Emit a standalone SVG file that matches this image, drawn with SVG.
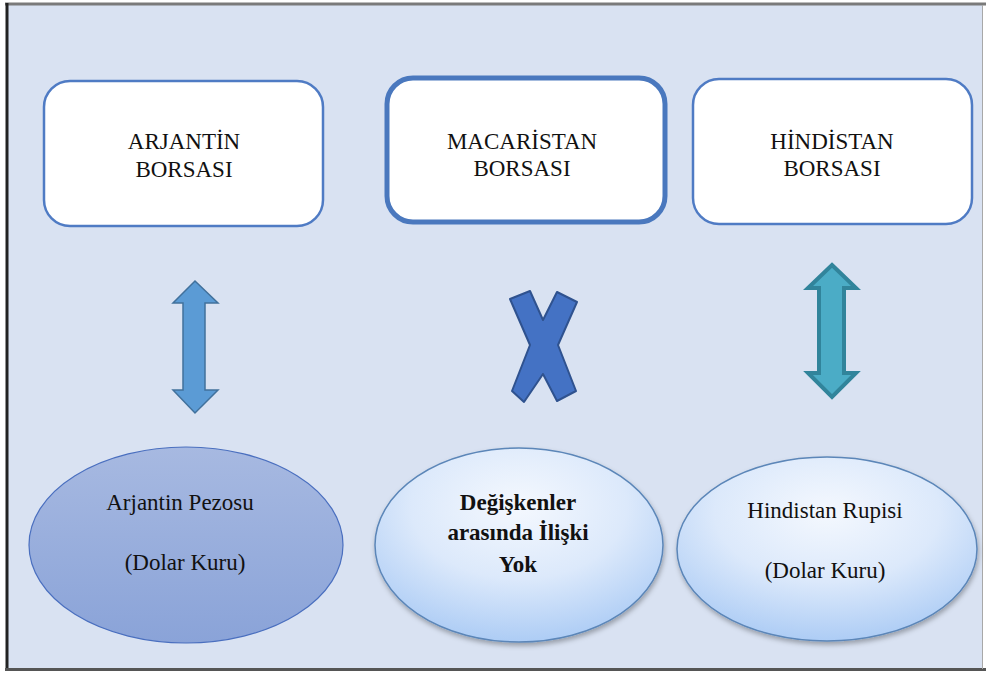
<svg xmlns="http://www.w3.org/2000/svg" width="989" height="675" viewBox="0 0 989 675">
<defs>
<style>
.box{fill:#ffffff;stroke:#4F7BC4;stroke-width:2.5}
.t{font-family:'Liberation Serif',Tinos,'Times New Roman',Times,'DejaVu Serif','Noto Serif',serif;font-size:23px;fill:#111;text-anchor:middle}
.b{font-weight:bold}
</style>
<linearGradient id="gL" x1="0" y1="0" x2="0" y2="1">
<stop offset="0" stop-color="#A7B9E1"/>
<stop offset="1" stop-color="#8AA3D8"/>
</linearGradient>
<radialGradient id="gB" cx="0.5" cy="0.3" r="0.75">
<stop offset="0" stop-color="#F4F8FE"/>
<stop offset="0.5" stop-color="#DCE9FB"/>
<stop offset="1" stop-color="#A6C8F4"/>
</radialGradient>
<filter id="sh" x="-10%" y="-10%" width="120%" height="130%">
<feDropShadow dx="1" dy="3" stdDeviation="2.5" flood-color="#000" flood-opacity="0.3"/>
</filter>
</defs>
<rect x="0" y="0" width="989" height="675" fill="#ffffff"/>
<rect x="8" y="5" width="975" height="664" fill="#D9E2F2"/>
<line x1="5" y1="4" x2="986" y2="4" stroke="#7a7a7a" stroke-width="3"/>
<line x1="7" y1="3" x2="7" y2="671" stroke="#222" stroke-width="3"/>
<line x1="5" y1="669.5" x2="986" y2="669.5" stroke="#555" stroke-width="3"/>
<line x1="982.5" y1="5" x2="982.5" y2="669" stroke="#a8a8a8" stroke-width="1"/>

<g id="box-arjantin">
<rect class="box" x="44" y="81" width="279" height="145" rx="26"/>
<text class="t" x="184" y="149">ARJANTİN</text>
<text class="t" x="184" y="177">BORSASI</text>
</g>
<g id="box-macaristan">
<rect class="box" x="387" y="78" width="278" height="144" rx="26" style="stroke-width:5;stroke:#4A78BE"/>
<text class="t" x="522" y="149">MACARİSTAN</text>
<text class="t" x="522" y="176">BORSASI</text>
</g>
<g id="box-hindistan">
<rect class="box" x="693" y="79" width="279" height="145" rx="26"/>
<text class="t" x="832" y="149">HİNDİSTAN</text>
<text class="t" x="832" y="176">BORSASI</text>
</g>

<g id="connectors">
<polygon points="195,281 218,303 205,303 205,390 218,390 195,413 173,390 183,390 183,303 173,303" fill="#5B9BD5" stroke="#41719C" stroke-width="1.5" stroke-linejoin="miter"/>
<polygon points="510,299 530,291 543,320 557,292 577,302 558,345 576,391 557,401 543,374 524,402 512,391 530,345" fill="#4472C4" stroke="#2F528F" stroke-width="2" stroke-linejoin="round"/>
<polygon points="832,265 856,288 844,288 844,373 856,373 832,397 808,373 819,373 819,288 808,288" fill="#4BACC6" stroke="#31849B" stroke-width="4" stroke-linejoin="miter"/>
</g>

<g id="ellipse-arjantin">
<ellipse cx="186" cy="545" rx="157" ry="98" fill="url(#gL)" stroke="#4A6FBF" stroke-width="1.2"/>
<text class="t" x="180" y="510">Arjantin Pezosu</text>
<text class="t" x="185" y="570">(Dolar Kuru)</text>
</g>
<g id="ellipse-iliski">
<ellipse cx="519" cy="545" rx="144" ry="97" fill="url(#gB)" stroke="#5B86B8" stroke-width="1.5" filter="url(#sh)"/>
<text class="t b" x="518" y="510">Değişkenler</text>
<text class="t b" x="518" y="540">arasında İlişki</text>
<text class="t b" x="518" y="572">Yok</text>
</g>
<g id="ellipse-hindistan">
<ellipse cx="827" cy="549" rx="150" ry="92" fill="url(#gB)" stroke="#5B86B8" stroke-width="1.5" filter="url(#sh)"/>
<text class="t" x="825" y="518">Hindistan Rupisi</text>
<text class="t" x="825" y="578">(Dolar Kuru)</text>
</g>
</svg>
